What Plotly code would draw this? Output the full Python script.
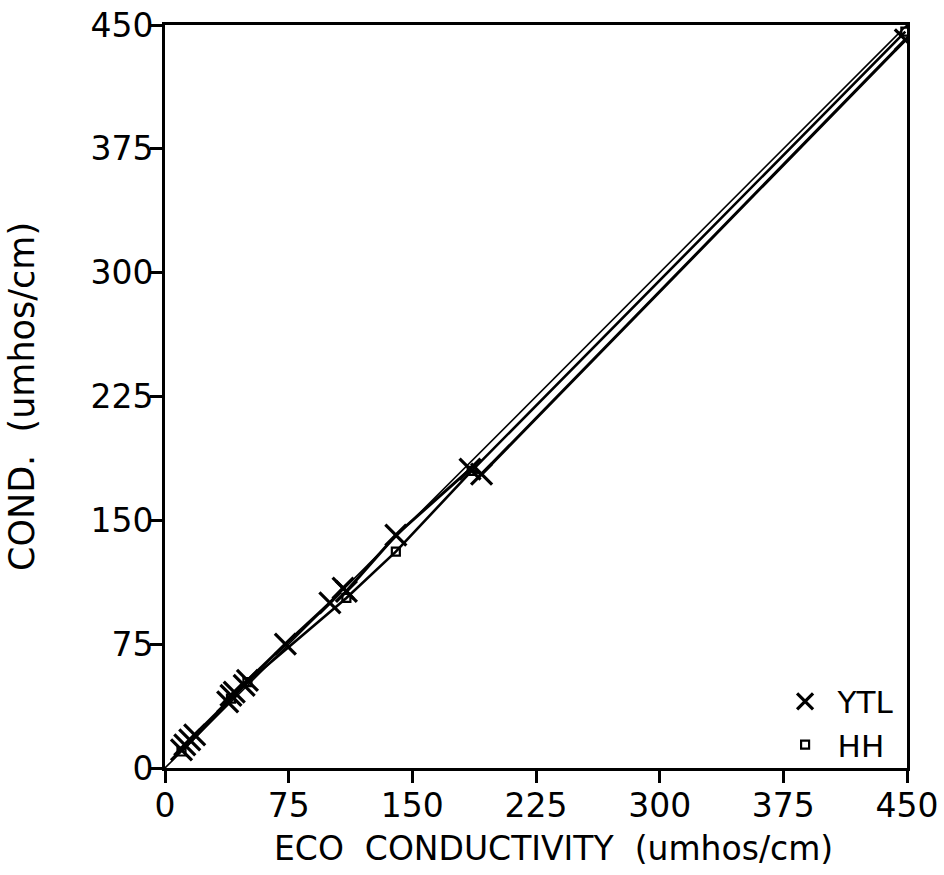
import plotly.graph_objects as go

# YTL data (x = ECO conductivity, y = COND.)
ytl_x = [10, 12, 15, 18, 38, 40, 42, 48, 50, 73, 100, 108, 110, 140, 185, 192, 449]
ytl_y = [11, 14, 17, 20, 40, 44, 46, 50, 53, 75, 100, 109, 107, 141, 181, 178, 441]

# HH data
hh_x = [10, 40, 50, 110, 140, 186, 449]
hh_y = [10, 42, 52, 103, 131, 180, 446]

# 1:1 reference line
ref_x = [0, 450]
ref_y = [0, 450]

ticks = [0, 75, 150, 225, 300, 375, 450]

font = "DejaVu Sans"

fig = go.Figure()
fig.add_trace(go.Scatter(x=ref_x, y=ref_y, mode="lines",
                         line=dict(color="black", width=1.6), showlegend=False))
fig.add_trace(go.Scatter(x=ytl_x, y=ytl_y, mode="lines",
                         line=dict(color="black", width=3), showlegend=False))
fig.add_trace(go.Scatter(x=hh_x, y=hh_y, mode="lines",
                         line=dict(color="black", width=2.6), showlegend=False))
fig.add_trace(go.Scatter(x=ytl_x, y=ytl_y, mode="markers", name="YTL",
                         marker=dict(symbol="x-thin", size=21, color="black",
                                     line=dict(color="black", width=3.2))))
fig.add_trace(go.Scatter(x=hh_x, y=hh_y, mode="markers", name="HH",
                         marker=dict(symbol="square-open", size=8, color="black",
                                     line=dict(color="black", width=2.2))))

axis_common = dict(
    range=[0, 450], tickvals=ticks, ticktext=[str(t) for t in ticks],
    showgrid=False, zeroline=False, showline=True, linecolor="black", linewidth=3,
    mirror=True, ticks="outside", ticklen=12, tickwidth=2.5, tickcolor="black",
    tickfont=dict(family=font, size=33, color="black"), automargin=False,
)

fig.update_layout(
    width=944, height=875,
    margin=dict(l=165, r=37, t=25, b=107),
    paper_bgcolor="white", plot_bgcolor="white",
    font=dict(family=font, color="black"),
    xaxis=dict(**axis_common, ticklabelstandoff=-6),
    yaxis=dict(**axis_common, ticklabelstandoff=-10,
               title=dict(text="COND.  (umhos/cm)",
                          font=dict(family=font, size=35), standoff=46)),
    legend=dict(x=0.99, y=-0.005, xanchor="right", yanchor="bottom",
                bgcolor="rgba(0,0,0,0)", font=dict(family=font, size=31),
                itemsizing="trace", itemwidth=55, tracegroupgap=2),
    annotations=[dict(text="ECO  CONDUCTIVITY  (umhos/cm)", xref="paper", yref="paper",
                      x=0.523, y=-0.108, xanchor="center", yanchor="middle",
                      showarrow=False, font=dict(family=font, size=33, color="black"))],
)

fig.write_html("out.html")
